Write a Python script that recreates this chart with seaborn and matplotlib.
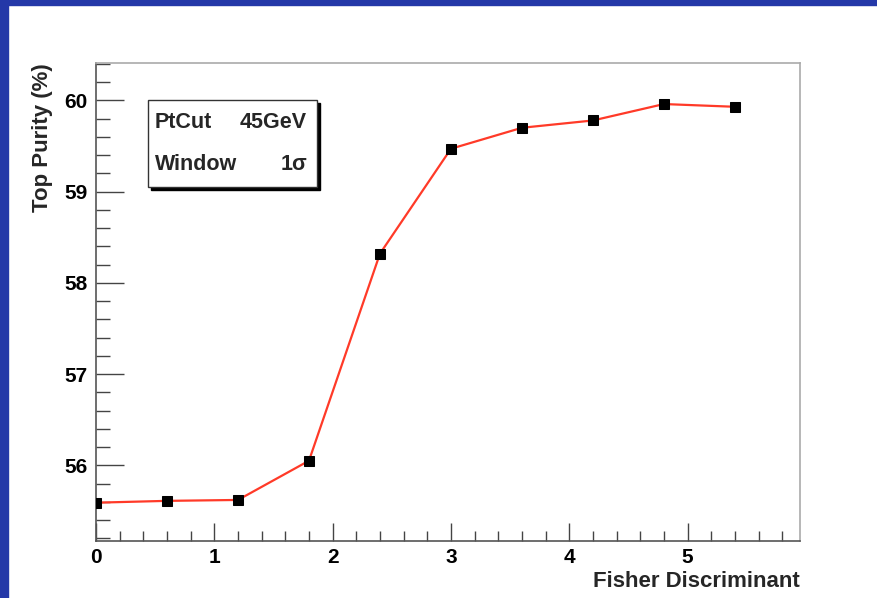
import numpy as np
import pandas as pd
import seaborn as sns
import matplotlib.pyplot as plt
from matplotlib.patches import Rectangle
from matplotlib.ticker import MultipleLocator

# values
fisher_cut = [0.0, 0.6, 1.2, 1.8, 2.4, 3.0, 3.6, 4.2, 4.8, 5.4]
top_purity = [55.59, 55.61, 55.62, 56.05, 58.32, 59.47, 59.70, 59.78, 59.96, 59.93]

df = pd.DataFrame({'Fisher Discriminant': fisher_cut, 'Top Purity (%)': top_purity})

sns.set_style('ticks')
plt.rcParams['font.family'] = ['Liberation Sans', 'DejaVu Sans']
plt.rcParams['font.weight'] = 'bold'

fig = plt.figure(figsize=(8.78, 5.98), dpi=100)
# blue slide frame
fig.patches.append(Rectangle((0, 1 - 5 / 598), 1, 5 / 598, transform=fig.transFigure,
                             color='#2438a8', zorder=0))
fig.patches.append(Rectangle((0, 0), 8 / 878, 1, transform=fig.transFigure,
                             color='#2438a8', zorder=0))

ax = fig.add_axes([96 / 878, 57 / 598, 704 / 878, 478 / 598])
sns.lineplot(data=df, x='Fisher Discriminant', y='Top Purity (%)', ax=ax,
             color='#ff3a28', linewidth=1.6, marker='s', markersize=7.5,
             markerfacecolor='black', markeredgecolor='black', zorder=3)

ax.set_xlim(0, 5.95)
ax.set_ylim(55.17, 60.41)
ax.xaxis.set_major_locator(MultipleLocator(1))
ax.xaxis.set_minor_locator(MultipleLocator(0.2))
ax.yaxis.set_major_locator(MultipleLocator(1))
ax.yaxis.set_minor_locator(MultipleLocator(0.2))
ax.tick_params(which='both', direction='in', colors='#444444', labelcolor='black',
               labelsize=15, width=1)
ax.tick_params(axis='y', which='major', length=20, pad=6)
ax.tick_params(axis='y', which='minor', length=10)
ax.tick_params(axis='x', which='major', length=13, pad=5)
ax.tick_params(axis='x', which='minor', length=7)
for t in ax.get_xticklabels() + ax.get_yticklabels():
    t.set_fontweight('bold')

for s in ax.spines.values():
    s.set_color('#555555')
    s.set_linewidth(1.2)
ax.spines['top'].set_color('#aaaaaa')
ax.spines['right'].set_color('#aaaaaa')

ax.set_xlabel('Fisher Discriminant', loc='right', fontsize=16, fontweight='bold', labelpad=3)
ax.set_ylabel('Top Purity (%)', loc='top', fontsize=16, fontweight='bold', labelpad=8)

# info box with shadow
bx0, by0, bw, bh = 148 / 878, 1 - 187 / 598, 169 / 878, 87 / 598
fig.patches.append(Rectangle((bx0 + 3 / 878, by0 - 3 / 598), bw, bh, transform=fig.transFigure,
                             facecolor='black', edgecolor='black', zorder=4))
fig.patches.append(Rectangle((bx0, by0), bw, bh, transform=fig.transFigure,
                             facecolor='white', edgecolor='#333333', linewidth=1, zorder=5))
fig.text(155 / 878, 1 - 122 / 598, 'PtCut', fontsize=15.5, fontweight='bold', va='center', zorder=6)
fig.text(307 / 878, 1 - 122 / 598, '45GeV', fontsize=15.5, fontweight='bold', va='center', ha='right', zorder=6)
fig.text(155 / 878, 1 - 165 / 598, 'Window', fontsize=15.5, fontweight='bold', va='center', zorder=6)
fig.text(307 / 878, 1 - 165 / 598, '1σ', fontsize=15.5, fontweight='bold', va='center', ha='right', zorder=6)

fig.savefig('out.png', dpi=100)
